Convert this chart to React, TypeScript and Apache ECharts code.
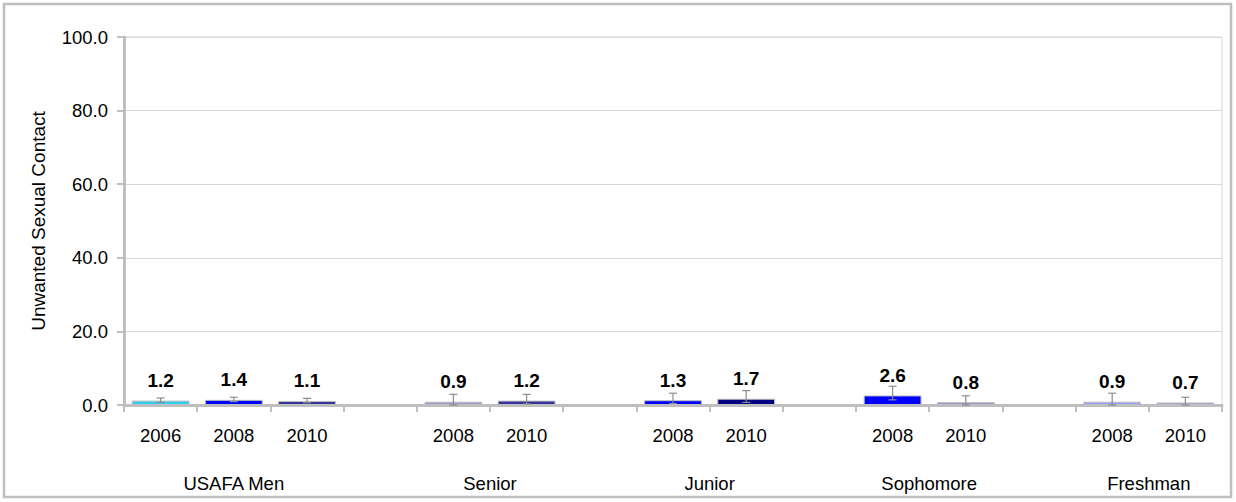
import React, { useEffect, useRef } from "react";
import * as echarts from "echarts";

const categories = ["2006", "2008", "2010", "", "2008", "2010", "", "2008", "2010", "", "2008", "2010", "", "2008", "2010"];
const values: (number | null)[] = [1.2, 1.4, 1.1, null, 0.9, 1.2, null, 1.3, 1.7, null, 2.6, 0.8, null, 0.9, 0.7];
const errLow: (number | null)[] = [0.7, 0.9, 0.6, null, 0.0, 0.3, null, 0.4, 0.7, null, 1.4, 0.0, null, 0.0, 0.0];
const errHigh: (number | null)[] = [1.9, 2.1, 1.8, null, 2.9, 2.9, null, 3.2, 3.9, null, 5.1, 2.5, null, 3.2, 2.1];
const barColors: (string | null)[] = ["#33CCEE", "#0000FF", "#333399", null, "#9999CC", "#333399", null, "#0000FF", "#000080", null, "#0000FF", "#9999CC", null, "#9999FF", "#9999CC"];
const groups = ["USAFA Men", "Senior", "Junior", "Sophomore", "Freshman"];
const groupCenters = [1.5, 5, 8, 11, 14];
const yTicks = [0, 20, 40, 60, 80, 100];

const FONT = "'Liberation Sans', Arial, sans-serif";
const FS = 18.5;

export default function App() {
  const ref = useRef<HTMLDivElement>(null);
  useEffect(() => {
    if (!ref.current) return;
    const chart = echarts.init(ref.current, null, { renderer: "svg" });
    const barData = values.map((v, i) =>
      v == null
        ? null
        : { value: v, itemStyle: { color: barColors[i] as string } }
    );
    const errData = values
      .map((v, i) => (v == null ? null : [i, errLow[i], errHigh[i]]))
      .filter((d) => d != null);
    chart.setOption({
      animation: false,
      textStyle: { fontFamily: FONT },
      graphic: [
        {
          type: "rect",
          shape: { x: 4, y: 4, width: 1227, height: 493 },
          style: { fill: "none", stroke: "#BFBFBF", lineWidth: 2.5 },
          z: 100,
        },
      ],
      grid: {
        left: 124,
        right: 14,
        top: 37,
        bottom: 97,
        show: true,
        borderColor: "#D9D9D9",
        borderWidth: 1,
        backgroundColor: "transparent",
      },
      xAxis: [
        {
          type: "category",
          data: categories,
          axisLine: { show: true, lineStyle: { color: "#BFBFBF", width: 3 } },
          axisTick: { show: true, length: 7, interval: 0, lineStyle: { color: "#BFBFBF", width: 2 } },
          axisLabel: { interval: 0, margin: 21, color: "#000", fontSize: FS, fontFamily: FONT },
          splitLine: { show: false },
        },
        {
          type: "value",
          min: 0,
          max: 15,
          position: "bottom",
          axisLine: { show: false },
          axisTick: { show: false },
          splitLine: { show: false },
          axisLabel: {
            customValues: groupCenters,
            margin: 68.5,
            color: "#000",
            fontSize: FS,
            fontFamily: FONT,
            formatter: (v: number) => {
              const idx = groupCenters.indexOf(v);
              return idx >= 0 ? groups[idx] : "";
            },
          },
        },
      ],
      yAxis: {
        type: "value",
        min: 0,
        max: 100,
        interval: 20,
        name: "Unwanted Sexual Contact",
        nameLocation: "middle",
        nameGap: 76,
        nameTextStyle: { color: "#000", fontSize: 19, fontFamily: FONT },
        axisLine: { show: true, lineStyle: { color: "#BFBFBF", width: 3 } },
        axisTick: { show: true, length: 7, lineStyle: { color: "#BFBFBF", width: 2 } },
        axisLabel: {
          margin: 16,
          color: "#000",
          fontSize: FS,
          fontFamily: FONT,
          formatter: (v: number) => (yTicks.includes(v) ? v.toFixed(1) : ""),
        },
        splitLine: { show: true, lineStyle: { color: "#D9D9D9", width: 1 } },
      },
      series: [
        {
          type: "bar",
          xAxisIndex: 0,
          data: barData,
          barCategoryGap: "21%",
          itemStyle: { borderColor: "#BFBFBF", borderWidth: 1 },
          label: {
            show: true,
            position: "top",
            distance: 10.5,
            color: "#000",
            fontWeight: "bold",
            fontSize: 19,
            fontFamily: FONT,
            formatter: (p: any) => Number(p.value).toFixed(1),
          },
          z: 2,
        },
        {
          type: "custom",
          xAxisIndex: 0,
          data: errData,
          z: 3,
          renderItem: (params: any, api: any) => {
            const x = api.value(0);
            const lo = api.coord([x, api.value(1)]);
            const hi = api.coord([x, api.value(2)]);
            const cx = lo[0];
            const hw = 4;
            const style = { stroke: "#8C8C8C", lineWidth: 1.2 };
            return {
              type: "group",
              children: [
                { type: "line", shape: { x1: cx, y1: lo[1], x2: cx, y2: hi[1] }, style },
                { type: "line", shape: { x1: cx - hw, y1: hi[1], x2: cx + hw, y2: hi[1] }, style },
                { type: "line", shape: { x1: cx - hw, y1: lo[1], x2: cx + hw, y2: lo[1] }, style },
              ],
            };
          },
        },
      ],
    });
    return () => chart.dispose();
  }, []);
  return (
    <div
      ref={ref}
      style={{ position: "fixed", left: 0, top: 0, width: 1236, height: 502, background: "#fff" }}
    />
  );
}
